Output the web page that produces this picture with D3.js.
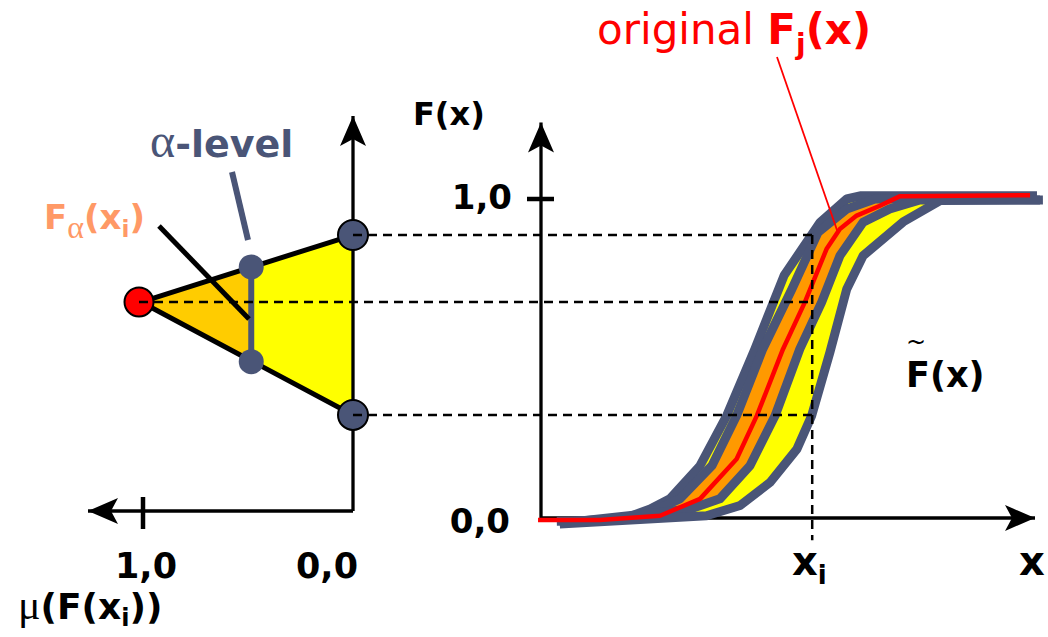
<!DOCTYPE html>
<html><head><meta charset="utf-8">
<script src="https://cdn.jsdelivr.net/npm/d3@7"></script>
<style>body{margin:0;background:#fff}svg{display:block}</style>
</head><body>
<svg id="c" width="1048" height="637"></svg>
<script>
// ---------- data ----------
const xDomain = [0, 100];
const fDomain = [0, 1];
const muDomain = [0, 1];
const fTickLabels = ["0,0", "1,0"];
const muTickLabels = ["1,0", "0,0"];
const xi = 54.9;
// fuzzy CDF band: outer left, inner left, original, inner right, outer right  ([x, F])
const outerLeft = [[3.2,-0.01],[16,-0.006],[22.1,0.028],[26.1,0.06],[32.2,0.164],[37.6,0.321],[43.3,0.53],[49.2,0.76],[56.5,0.927],[61.9,1.0],[64.6,1.01],[100.4,1.01]];
const innerLeft = [[3.8,-0.013],[20,0.003],[28.1,0.06],[34.6,0.164],[39.6,0.321],[44.9,0.53],[50.8,0.718],[56.1,0.896],[61.9,0.969],[67.6,1.0],[100,1.003]];
const original = [[-0.6,-0.006],[11.9,-0.006],[24.1,0.007],[32.2,0.06],[39.6,0.185],[43.7,0.321],[49,0.53],[53.4,0.676],[57.8,0.843],[60.5,0.906],[63.9,0.948],[68.6,0.979],[72.7,1.009],[99,1.012]];
const innerRight = [[3.8,-0.016],[30.2,0.028],[36.2,0.06],[42.3,0.164],[47.4,0.321],[52.4,0.53],[56.8,0.676],[60.5,0.822],[65.2,0.927],[70.6,0.969],[76.7,0.997],[101,0.997]];
const outerRight = [[3.8,-0.019],[33.5,0.007],[40.3,0.039],[46.4,0.112],[51.8,0.216],[54.8,0.321],[58.5,0.52],[61.9,0.718],[65.2,0.822],[73.3,0.928],[80.8,0.995],[101.6,0.997]];
// membership function of F(x_i): [mu, F]
const membership = [[0,0.323],[1,0.677],[0,0.887]];
const alphaLevel = 0.48;
const alphaCut = [0.49, 0.787];

// ---------- scales ----------
const xS = d3.scaleLinear().domain(xDomain).range([541,1035]);
const fS = d3.scaleLinear().domain(fDomain).range([518,199]);
const muS = d3.scaleLinear().domain(muDomain).range([353,141]);

const GREY = "#4a5577", FONT = "DejaVu Sans, Verdana, sans-serif", SERIF = "Liberation Serif, DejaVu Serif, serif";
const svg = d3.select("#c");
const defs = svg.append("defs");
defs.append("marker").attr("id","arr").attr("markerUnits","userSpaceOnUse")
  .attr("viewBox","-32 -15 34 30").attr("refX",0).attr("refY",0)
  .attr("markerWidth",34).attr("markerHeight",30).attr("orient","auto")
  .append("path").attr("d","M-30,-13 L0,0 L-30,13 L-23,0 Z").attr("fill","#000");

const line = d3.line().x(d=>xS(d[0])).y(d=>fS(d[1]));
const mline = d3.line().x(d=>muS(d[0])).y(d=>fS(d[1]));

// ---------- left panel: membership triangle ----------
const apex = membership[1];
svg.append("path").attr("d", mline([[alphaLevel,alphaCut[0]], apex, [alphaLevel,alphaCut[1]]]) + "Z").attr("fill","#ffcc00");
svg.append("path").attr("d", mline([membership[0],[alphaLevel,alphaCut[0]],[alphaLevel,alphaCut[1]],membership[2]]) + "Z").attr("fill","#ffff00");
svg.append("path").attr("d", mline([membership[2], apex, membership[0]])).attr("fill","none")
  .attr("stroke","#000").attr("stroke-width",5).attr("stroke-linejoin","round");

// left axes
const leftBase = fS.invert(511);
svg.append("path").attr("d", mline([[0,leftBase],[0,1.26]])).attr("stroke","#000").attr("stroke-width",3.3).attr("fill","none").attr("marker-end","url(#arr)");
svg.append("path").attr("d", mline([[0,leftBase],[1.25,leftBase]])).attr("stroke","#000").attr("stroke-width",3.3).attr("fill","none").attr("marker-end","url(#arr)");
svg.append("line").attr("x1",muS(1)+2).attr("x2",muS(1)+2).attr("y1",497).attr("y2",529).attr("stroke","#000").attr("stroke-width",4.5);

// alpha cut
svg.append("line").attr("x1",muS(alphaLevel)).attr("x2",muS(alphaLevel)).attr("y1",fS(alphaCut[0])).attr("y2",fS(alphaCut[1])).attr("stroke",GREY).attr("stroke-width",6);
svg.selectAll(".ac").data(alphaCut).join("circle").attr("cx",muS(alphaLevel)).attr("cy",d=>fS(d)).attr("r",12.5).attr("fill",GREY);
// callouts
svg.append("line").attr("x1",232).attr("y1",172).attr("x2",248).attr("y2",240).attr("stroke",GREY).attr("stroke-width",6);
svg.append("line").attr("x1",159).attr("y1",226).attr("x2",249).attr("y2",319).attr("stroke","#000").attr("stroke-width",5);

// endpoints
svg.selectAll(".ep").data([membership[0], membership[2]]).join("circle")
  .attr("cx",d=>muS(d[0])).attr("cy",d=>fS(d[1])).attr("r",15).attr("fill",GREY).attr("stroke","#000").attr("stroke-width",2);
svg.append("circle").attr("cx",muS(1)-2).attr("cy",fS(apex[1])).attr("r",14.5).attr("fill","#ff0000").attr("stroke","#000").attr("stroke-width",2);

// ---------- right panel ----------
svg.append("path").attr("d", line([[0,0],[0,1.24]])).attr("stroke","#000").attr("stroke-width",3.3).attr("fill","none").attr("marker-end","url(#arr)");
svg.append("path").attr("d", line([[0,0],[100,0]])).attr("stroke","#000").attr("stroke-width",3.3).attr("fill","none").attr("marker-end","url(#arr)");
svg.append("line").attr("x1",527).attr("x2",554).attr("y1",fS(1)).attr("y2",fS(1)).attr("stroke","#000").attr("stroke-width",4.5);

svg.append("path").attr("d", line(outerLeft.concat(outerRight.slice().reverse())) + "Z").attr("fill","#ffff00");
svg.append("path").attr("d", line(innerLeft.concat(innerRight.slice().reverse())) + "Z").attr("fill","#ff9900");
[outerLeft, innerLeft, innerRight, outerRight].forEach(c => {
  svg.append("path").attr("d", line(c)).attr("fill","none").attr("stroke",GREY).attr("stroke-width",9).attr("stroke-linejoin","round");
});
svg.append("path").attr("d", line(original)).attr("fill","none").attr("stroke","#ff0000").attr("stroke-width",4.5).attr("stroke-linejoin","round");

// red callout
svg.append("line").attr("x1",777).attr("y1",57).attr("x2",838).attr("y2",233).attr("stroke","#ff0000").attr("stroke-width",1.8);

// dashed guides
const guides = [[0, 0.887],[1, 0.677],[0, 0.323]];
guides.forEach(g => {
  svg.append("line").attr("x1", muS(g[0]) - (g[0]===1?2:0)).attr("x2", xS(xi)).attr("y1", fS(g[1])).attr("y2", fS(g[1]))
    .attr("stroke","#000").attr("stroke-width",2.5).attr("stroke-dasharray","9,6");
});
svg.append("line").attr("x1",xS(xi)).attr("x2",xS(xi)).attr("y1",fS(0.887)).attr("y2",fS(-0.07))
  .attr("stroke","#000").attr("stroke-width",2.5).attr("stroke-dasharray","9,6");

// ---------- text ----------
function txt(x,y,anchor,size,color){
  return svg.append("text").attr("x",x).attr("y",y).attr("text-anchor",anchor).attr("font-family",FONT)
    .attr("font-size",size).attr("font-weight","bold").attr("fill",color||"#000");
}
// axis tick labels
txt(512, fS(1)+10, "end", 34).text(fTickLabels[1]);
txt(510, fS(0)+15, "end", 34).text(fTickLabels[0]);
txt(muS(1)+5, 578, "middle", 35).text(muTickLabels[0]);
txt(358, 578, "end", 35).text(muTickLabels[1]);
txt(413, 125, "start", 32).text("F(x)");
// x and x_i
txt(1019, 575, "start", 40).text("x");
const txi = txt(792, 575, "start", 40);
txi.append("tspan").text("x");
txi.append("tspan").attr("font-size",26).attr("dy",9).text("i");
// F tilde
const tt = txt(906, 387, "start", 35);
tt.append("tspan").text("F(x)");
tt.append("tspan").attr("x",906).attr("y",350).attr("font-weight","normal").attr("font-size",24).text("~");
// original Fj(x)
const to = svg.append("text").attr("x",597).attr("y",44).attr("font-family",FONT).attr("font-size",42).attr("fill","#ff0000");
to.append("tspan").text("original ");
to.append("tspan").attr("font-weight","bold").text("F");
to.append("tspan").attr("font-weight","bold").attr("font-size",28).attr("dy",10).text("j");
to.append("tspan").attr("font-weight","bold").attr("dy",-10).text("(x)");
// alpha-level
const ta = svg.append("text").attr("x",150).attr("y",157).attr("fill",GREY);
ta.append("tspan").attr("font-family",SERIF).attr("font-size",48).text("α");
ta.append("tspan").attr("font-family",FONT).attr("font-weight","bold").attr("font-size",38).text("-level");
// F_alpha(x_i)
const tf = svg.append("text").attr("x",44).attr("y",229).attr("fill","#ff9966").attr("font-family",FONT).attr("font-weight","bold").attr("font-size",34);
tf.append("tspan").text("F");
tf.append("tspan").attr("font-family",SERIF).attr("font-weight","normal").attr("font-size",32).attr("dy",9).text("α");
tf.append("tspan").attr("dy",-9).text("(x");
tf.append("tspan").attr("font-size",23).attr("dy",8).text("i");
tf.append("tspan").attr("dy",-8).text(")");
// mu(F(x_i))
const tm = svg.append("text").attr("x",18).attr("y",619).attr("fill","#000").attr("font-family",FONT).attr("font-weight","bold").attr("font-size",36);
tm.append("tspan").attr("font-family",SERIF).attr("font-weight","normal").attr("font-size",42).text("μ");
tm.append("tspan").text("(F(x");
tm.append("tspan").attr("font-size",24).attr("dy",7).text("i");
tm.append("tspan").attr("dy",-7).text("))");
</script>
</body></html>
